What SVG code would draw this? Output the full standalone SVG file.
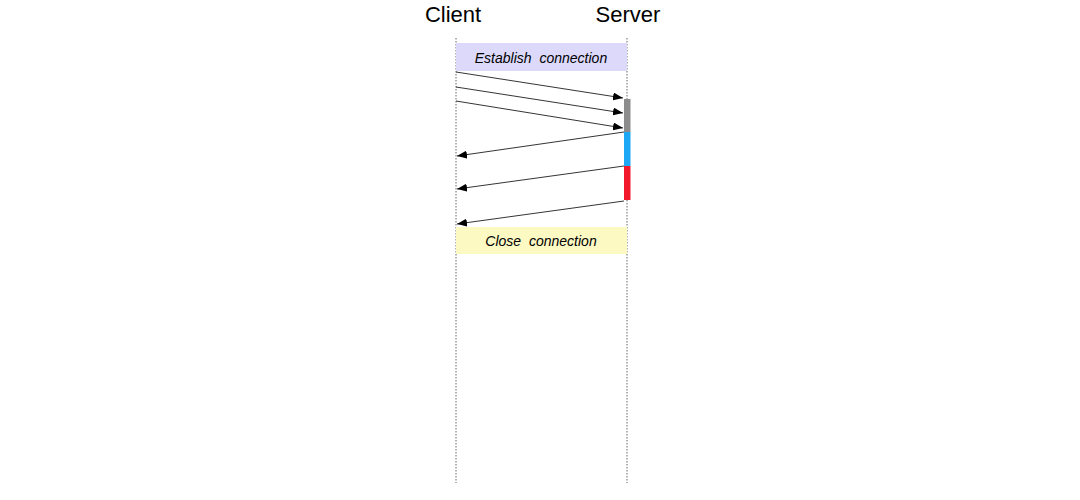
<svg xmlns="http://www.w3.org/2000/svg" width="1080" height="500" viewBox="0 0 1080 500">
<style>
.life{stroke:#666;stroke-width:1;stroke-dasharray:1.5,1.5;fill:none}
.msg{stroke:#000;stroke-width:0.8;fill:none;marker-end:url(#ah)}
.title{font-family:"Liberation Sans",Arial,sans-serif;font-size:22px;fill:#000;text-anchor:middle}
.note{font-family:"Liberation Sans",Arial,sans-serif;font-size:14px;font-style:italic;word-spacing:4px;fill:#000;text-anchor:middle}
</style>
<defs>
<marker id="ah" viewBox="0 0 10 8" refX="10" refY="4" markerWidth="10" markerHeight="8" markerUnits="userSpaceOnUse" orient="auto">
<path d="M0,0 L10,4 L0,8 Z" fill="#000"/>
</marker>
</defs>
<rect width="1080" height="500" fill="#fff"/>
<g id="client">
<text class="title" x="453" y="22">Client</text>
<line class="life" x1="456" y1="38" x2="456" y2="483"/>
</g>
<g id="server">
<text class="title" x="628" y="22">Server</text>
<line class="life" x1="627" y1="38" x2="627" y2="483"/>
</g>
<g id="establish">
<rect x="456" y="43" width="171" height="28" fill="#dcd9fb"/>
<text class="note" x="541" y="63">Establish connection</text>
</g>
<g id="activation">
<rect x="624" y="99" width="6.5" height="33" fill="#8c8c8c"/>
<rect x="624" y="132" width="6.5" height="34" fill="#1ea7f5"/>
<rect x="624" y="166" width="6.5" height="34" fill="#f2192a"/>
</g>
<g id="connectors">
<line class="msg" x1="456" y1="72" x2="623" y2="98"/>
<line class="msg" x1="456" y1="87" x2="623" y2="113"/>
<line class="msg" x1="456" y1="101" x2="623" y2="128"/>
<line class="msg" x1="624" y1="132" x2="457" y2="156"/>
<line class="msg" x1="624" y1="166" x2="457" y2="189"/>
<line class="msg" x1="624" y1="201" x2="457" y2="224"/>
</g>
<g id="close">
<rect x="456" y="227" width="171" height="27" fill="#fcf9c3"/>
<text class="note" x="541" y="246">Close connection</text>
</g>
</svg>
